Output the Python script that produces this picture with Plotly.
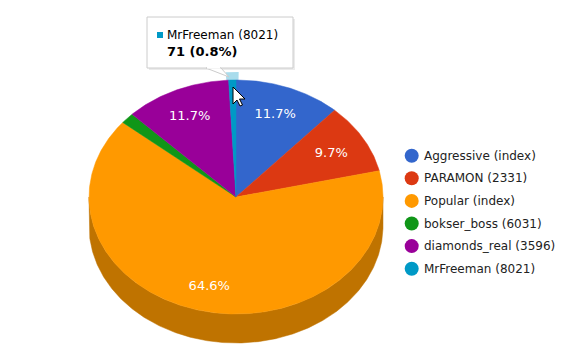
import numpy as np
import plotly.graph_objects as go

# ---- data ----
labels = ["Aggressive (index)", "PARAMON (2331)", "Popular (index)",
          "bokser_boss (6031)", "diamonds_real (3596)", "MrFreeman (8021)"]
values = [1041, 863, 5749, 134, 1041, 71]
colors = ["#3366cc", "#dc3912", "#ff9900", "#109618", "#990099", "#0099c6"]
side_colors = ["#264c99", "#a52b0e", "#bf7300", "#0c7012", "#730073", "#007394"]
hover_index = 5  # slice shown with tooltip

# ---- geometry (page pixel space; page body has an 8px margin) ----
W, H, PAD = 588, 360, 8
cx, cy, rx, ry, depth = 236, 197, 147, 117, 29
FONT = "DejaVu Sans"

total = float(sum(values))
pcts = [v / total * 100 for v in values]
bounds = np.concatenate([[0], np.cumsum(values) / total * 360.0])


def arc(a0, a1, sx=0.0, sy=0.0, dy=0.0):
    n = max(3, int((a1 - a0) * 2) + 2)
    t = np.radians(np.linspace(a0, a1, n))
    return (cx + (rx + sx) * np.sin(t), cy - (ry + sy) * np.cos(t) + dy)


fig = go.Figure()

# sides (visible front part only)
for i in range(len(values)):
    a0, a1 = max(bounds[i], 90), min(bounds[i + 1], 270)
    if a1 <= a0:
        continue
    xt, yt = arc(a0, a1)
    xb, yb = arc(a0, a1, dy=depth)
    fig.add_trace(go.Scatter(
        x=np.concatenate([xt, xb[::-1], xt[:1]]),
        y=np.concatenate([yt, yb[::-1], yt[:1]]),
        fill="toself", fillcolor=side_colors[i], mode="lines",
        line=dict(width=0.5, color=side_colors[i]), hoverinfo="skip",
        showlegend=False))

# hover ring for highlighted slice
a0, a1 = bounds[hover_index], bounds[hover_index + 1]
xr, yr = arc(a0 - 1.0, a1 + 1.0, sx=6, sy=8)
fig.add_trace(go.Scatter(
    x=np.concatenate([[cx], xr, [cx]]), y=np.concatenate([[cy], yr, [cy]]),
    fill="toself", fillcolor="#a9dcec", mode="lines",
    line=dict(width=0), hoverinfo="skip", showlegend=False))

# top faces
for i in range(len(values)):
    xa, ya = arc(bounds[i], bounds[i + 1])
    fig.add_trace(go.Scatter(
        x=np.concatenate([[cx], xa, [cx]]), y=np.concatenate([[cy], ya, [cy]]),
        fill="toself", fillcolor=colors[i], mode="lines",
        line=dict(width=0.5, color=colors[i]), hoverinfo="skip",
        showlegend=False))

# percentage labels
lx, ly, lt = [], [], []
for i in range(len(values)):
    if pcts[i] < 5:
        continue
    mid = np.radians((bounds[i] + bounds[i + 1]) / 2)
    lx.append(cx - 1 + rx * 0.76 * np.sin(mid))
    ly.append(cy + 2 - ry * 0.77 * np.cos(mid))
    lt.append(f"{pcts[i]:.1f}%")
fig.add_trace(go.Scatter(x=lx, y=ly, text=lt, mode="text",
                         textfont=dict(family=FONT, size=13, color="white"),
                         hoverinfo="skip", showlegend=False))

# legend (markers + text)
leg_x, leg_y0, leg_step = 411.7, 155.7, 22.6
leg_y = [leg_y0 + i * leg_step for i in range(len(labels))]
fig.add_trace(go.Scatter(x=[leg_x] * len(labels), y=leg_y, mode="markers",
                         marker=dict(size=14, color=colors),
                         hoverinfo="skip", showlegend=False))
annotations = []
for i, lab in enumerate(labels):
    annotations.append(dict(x=leg_x + 10.5, y=leg_y[i], text=lab, showarrow=False,
                            xanchor="left", yanchor="middle",
                            font=dict(family=FONT, size=12, color="#222222")))

# tooltip
hv = values[hover_index]
annotations.append(dict(x=165, y=35, text=labels[hover_index], showarrow=False,
                        xanchor="left", yanchor="middle",
                        font=dict(family=FONT, size=12, color="#000000")))
annotations.append(dict(x=165, y=51, text=f"<b>{hv} ({pcts[hover_index]:.1f}%)</b>",
                        showarrow=False, xanchor="left", yanchor="middle",
                        font=dict(family=FONT, size=13, color="#000000")))

shapes = [
    dict(type="rect", x0=149, x1=295, y0=19, y1=70, fillcolor="rgba(0,0,0,0.08)",
         line=dict(width=0), layer="above"),
    dict(type="rect", x0=147, x1=293, y0=17, y1=68, fillcolor="white",
         line=dict(width=1, color="#cccccc"), layer="above"),
    dict(type="path", path="M 206 68 L 229 77 L 221 68 Z", fillcolor="white",
         line=dict(width=1, color="#cccccc"), layer="above"),
    dict(type="rect", x0=207, x1=220, y0=66.5, y1=68.6, fillcolor="white",
         line=dict(width=0), layer="above"),
    dict(type="rect", x0=157, x1=163, y0=32, y1=38, fillcolor=colors[hover_index],
         line=dict(width=0), layer="above"),
    # mouse cursor
    dict(type="path",
         path="M 233 87 L 233 104 L 237 100 L 240 106 L 242.5 105 L 239.5 99 L 245 99 Z",
         fillcolor="white", line=dict(width=1, color="black"), layer="above"),
]

fig.update_layout(
    width=W - PAD, height=H - PAD, margin=dict(l=0, r=0, t=0, b=0),
    paper_bgcolor="white", plot_bgcolor="white",
    xaxis=dict(range=[PAD, W], visible=False, fixedrange=True),
    yaxis=dict(range=[H, PAD], visible=False, fixedrange=True),
    annotations=annotations, shapes=shapes, showlegend=False,
)

fig.write_html("out.html")
